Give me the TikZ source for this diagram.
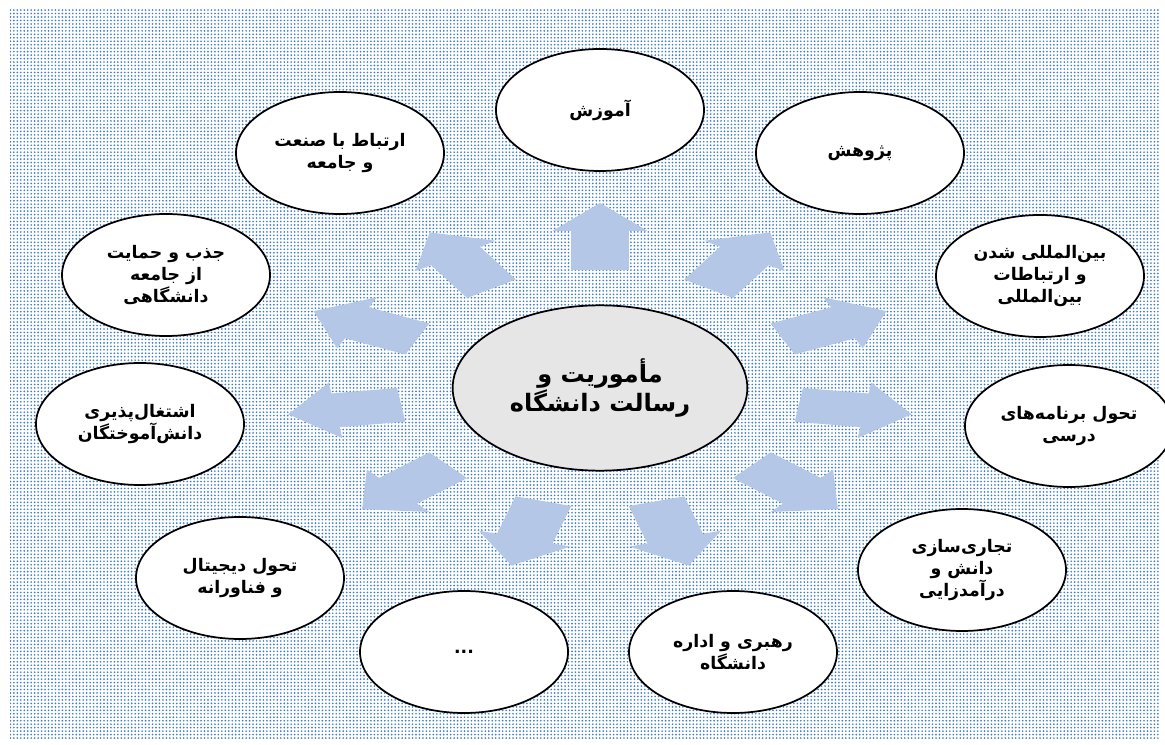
\documentclass[tikz,border=0pt]{standalone}
\usepackage{fontspec}
\newfontfamily\fa[Script=Arabic]{DejaVu Sans}
\TeXXeTstate=1
\usetikzlibrary{shapes.geometric,patterns.meta}
\definecolor{arrowblue}{HTML}{B4C7E7}
\definecolor{dotblue}{HTML}{3F7BC8}
\definecolor{centergray}{HTML}{E6E6E6}
\newcommand\blockarr[1]{%
  \begin{scope}[shift={({600+257*cos(#1)},{388-151*sin(#1)})},xscale=1.7,rotate=#1]
    \fill[arrowblue] (-33,-17) -- (6,-17) -- (6,-28) -- (34,0) -- (6,28) -- (6,17) -- (-33,17) -- cycle;
  \end{scope}}
\tikzset{
  bub/.style={ellipse,draw=black,line width=1.3pt,fill=white,minimum width=156pt,minimum height=91.5pt,inner sep=0pt,align=center,font=\fa\bfseries\fontsize{13}{16.5}\selectfont},
  hub/.style={ellipse,draw=black,line width=1.3pt,fill=centergray,minimum width=221pt,minimum height=124pt,inner sep=0pt,align=center,font=\fa\bfseries\fontsize{18}{20.5}\selectfont}
}
\begin{document}
\begin{tikzpicture}[x=0.75pt,y=-0.75pt]
\useasboundingbox (0,0) rectangle (1165,745);
\fill[white] (0,0) rectangle (1165,745);
\fill[pattern={Dots[distance=2.6pt,radius=0.7pt]},pattern color=dotblue] (10,10) rectangle (1160,738);
% arrows
\foreach \a in {90,57.27,24.55,-8.18,-40.91,-73.64,-106.36,-139.09,-171.82,155.45,122.73}{\blockarr{\a}}
% hub
\node[hub] (hub) at (600,388) {\beginR مأموریت و\endR\\\beginR رسالت دانشگاه\endR};
% satellites
\node[bub] (c1) at (600,110) {\beginR آموزش\endR};
\node[bub] (c2) at (860,153) {\beginR پژوهش\endR};
\node[bub] (c3) at (1040,276) {\beginR بین‌المللی شدن\endR\\\beginR و ارتباطات\endR\\\beginR بین‌المللی\endR};
\node[bub] (c4) at (1069,426) {\beginR تحول برنامه‌های\endR\\\beginR درسی\endR};
\node[bub] (c5) at (962,570) {\beginR تجاری‌سازی\endR\\\beginR دانش و\endR\\\beginR درآمدزایی\endR};
\node[bub] (c6) at (733,652) {\beginR رهبری و اداره\endR\\\beginR دانشگاه\endR};
\node[bub] (c7) at (464,652) {...};
\node[bub] (c8) at (240,578) {\beginR تحول دیجیتال\endR\\\beginR و فناورانه\endR};
\node[bub] (c9) at (140,424) {\beginR اشتغال‌پذیری\endR\\\beginR دانش‌آموختگان\endR};
\node[bub] (c10) at (166,275) {\beginR جذب و حمایت\endR\\\beginR از جامعه\endR\\\beginR دانشگاهی\endR};
\node[bub] (c11) at (340,153) {\beginR ارتباط با صنعت\endR\\\beginR و جامعه\endR};
\end{tikzpicture}
\end{document}
